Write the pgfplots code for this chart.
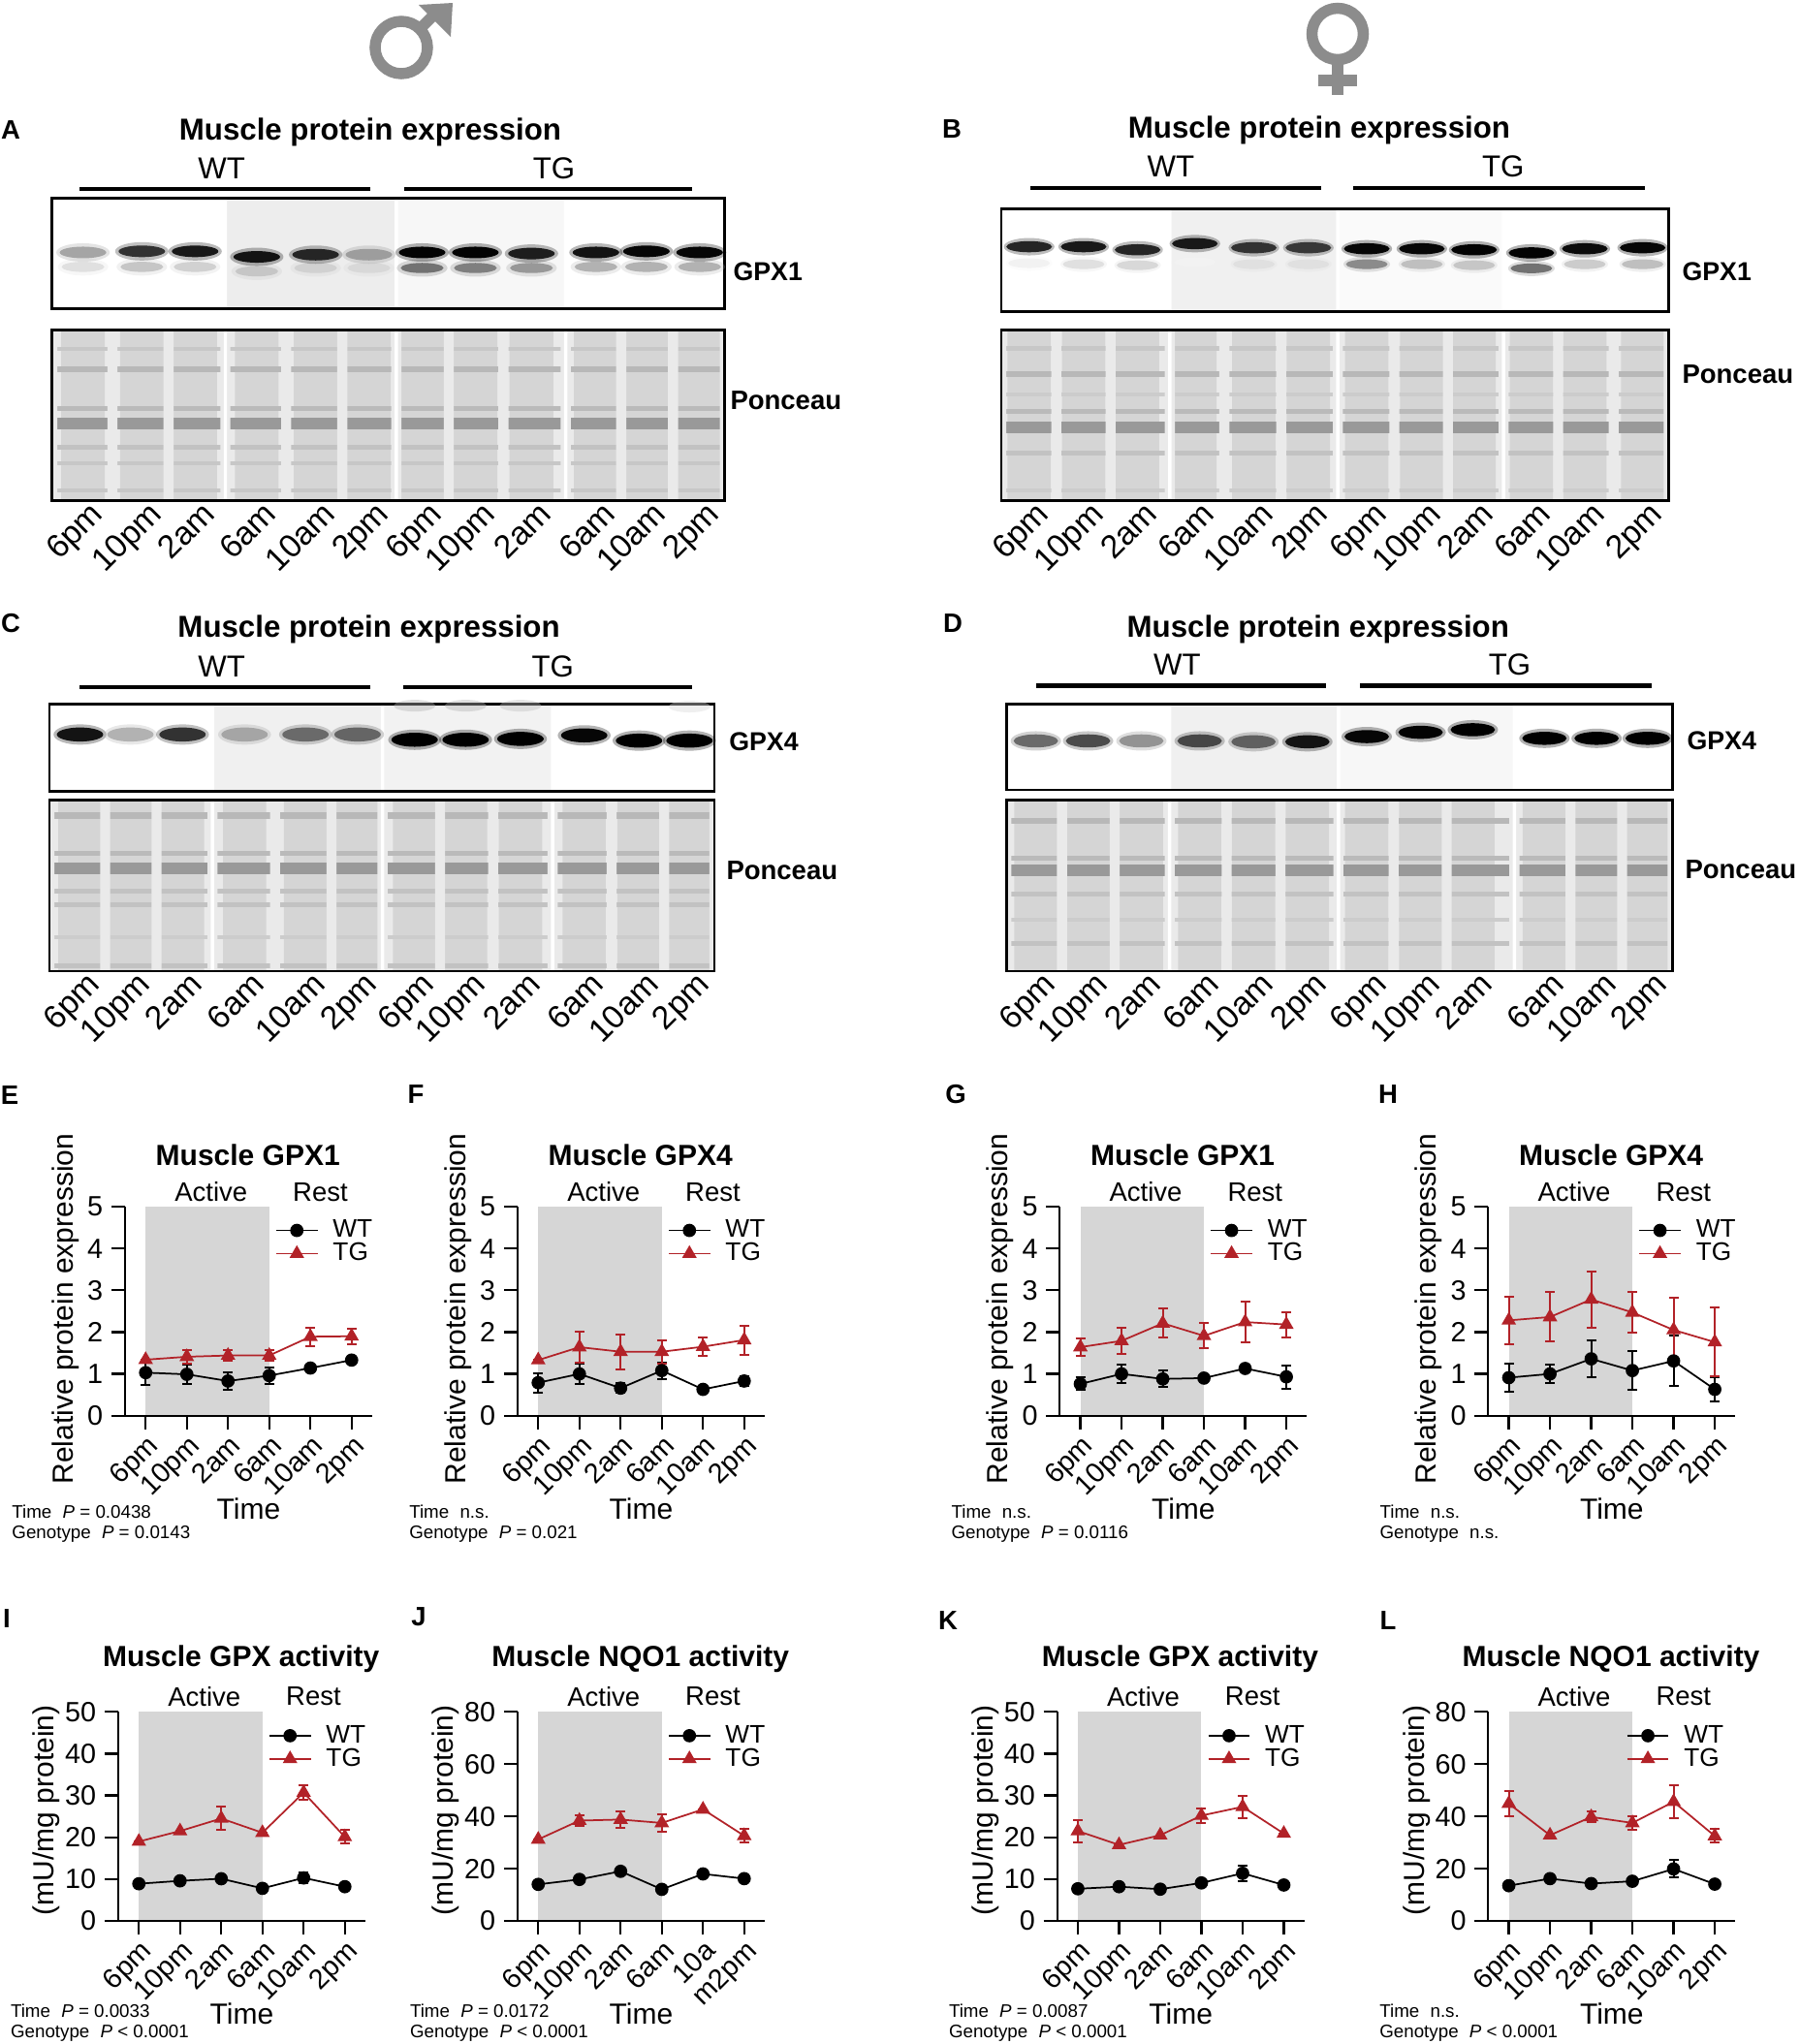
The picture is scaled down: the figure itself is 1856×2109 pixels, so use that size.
\documentclass[border=0pt]{standalone}
\usepackage{fontspec}
\setmainfont{Liberation Sans}
\usepackage{pgfplots}
\usepackage{pgfplotstable}
\pgfplotsset{compat=1.18}
\newcommand{\fs}[1]{\fontsize{#1}{#1}\selectfont}
\definecolor{tgred}{RGB}{178,34,40}
\definecolor{shade}{RGB}{214,214,214}
\definecolor{symgray}{RGB}{140,140,140}
\definecolor{ponbg}{RGB}{234,234,234}
\definecolor{ponlane}{RGB}{213,213,213}

\pgfplotsset{
  lc/.style={
    scale only axis, width=102pt, height=86.3pt, anchor=south west,
    axis lines=left, axis line style={-, line width=0.9pt},
    xmin=-0.5, xmax=5.5, ymin=0,
    xtick={0,1,2,3,4,5}, xticklabels={6pm,10pm,2am,6am,10am,2pm},
    tick align=outside, major tick length=5.6pt,
    tick style={line width=0.9pt, black},
    ticklabel style={font=\fs{11.5}},
    xticklabel style={rotate=45, anchor=north east, inner sep=1pt},
    /pgf/number format/assume math mode=true,
    clip=false, axis on top,
    legend cell align=left,
    legend style={draw=none, fill=none, anchor=north west, font=\fs{10.5},
      inner sep=0pt, row sep=-3.2pt, column sep=4pt, at={(0.606,0.962)}},
    every axis y label/.style={at={(axis description cs:-0.24,0.51)}, rotate=90, anchor=center, font=\fs{12}},
    every axis x label/.style={at={(axis description cs:0.5,-0.443)}, anchor=center, font=\fs{12}},
    xlabel={Time},
  },
  lctop/.style={lc, ymax=5, ytick={0,1,2,3,4,5}, ylabel={Relative protein expression}},
  lcbot/.style={lc, ylabel={(mU/mg protein)},
    every axis y label/.append style={at={(axis description cs:-0.29,0.53)}}},
  wt/.style={black, line width=0.7pt, mark=*, mark size=2.4pt,
    error bars/.cd, y dir=both, y explicit,
    error bar style={line width=0.8pt, black},
    error mark options={rotate=90, mark size=2pt, line width=0.8pt, black}},
  tg/.style={tgred, line width=0.7pt, mark=triangle*, mark size=2.8pt,
    error bars/.cd, y dir=both, y explicit,
    error bar style={line width=0.8pt, tgred},
    error mark options={rotate=90, mark size=2pt, line width=0.8pt, tgred}},
  blot/.style={scale only axis, anchor=south west, xmin=0, xmax=12, ymin=0, ymax=1,
    axis line style={line width=1.1pt}, xtick=\empty, ytick=\empty, axis on top,
    colormap={blot}{gray(0cm)=(1); gray(1cm)=(0)},
    point meta min=0, point meta max=1},
  band/.style={scatter, only marks, mark=*, point meta=explicit,
    scatter/use mapped color={draw opacity=0, fill=mapped color}},
  pon/.style={blot, axis background/.style={fill=ponbg},
    major tick length=0pt, xticklabels={6pm,10pm,2am,6am,10am,2pm,6pm,10pm,2am,6am,10am,2pm},
    xticklabel style={rotate=45, anchor=north east, font=\fs{13.5}, inner sep=1pt, xshift=3pt}},
  lane/.style={ybar, bar width=0.78, bar shift=0pt, fill=ponlane, draw=none},
  gap/.style={ybar, bar width=0.18, bar shift=0pt, fill=ponbg, draw=none},
  seg/.style={ybar, bar width=0.06, bar shift=0pt, fill=white, draw=none},
}

% ---------- blot band tables ----------
\pgfplotstableread{
x y c
0.55 0.51 0.35
1.60 0.52 0.80
2.55 0.52 0.90
3.65 0.47 0.92
4.70 0.49 0.85
5.65 0.49 0.38
6.60 0.51 0.98
7.55 0.51 0.98
8.55 0.50 0.88
9.70 0.51 0.92
10.60 0.52 0.97
11.55 0.51 0.97
}\bandAmain
\pgfplotstableread{
x y c
0.55 0.38 0.12
1.60 0.38 0.22
2.55 0.38 0.18
3.65 0.34 0.22
4.70 0.37 0.18
5.65 0.37 0.15
6.60 0.37 0.55
7.55 0.37 0.50
8.55 0.37 0.40
9.70 0.38 0.30
10.60 0.38 0.30
11.55 0.38 0.30
}\bandAlow
\pgfplotstableread{
x y c
0.50 0.63 0.85
1.48 0.63 0.90
2.45 0.60 0.85
3.48 0.66 0.90
4.54 0.62 0.80
5.52 0.62 0.78
6.57 0.61 0.97
7.56 0.61 0.97
8.50 0.60 0.98
9.53 0.57 0.98
10.49 0.61 0.95
11.53 0.62 0.97
}\bandBmain
\pgfplotstableread{
x y c
0.50 0.47 0.05
1.48 0.46 0.12
2.45 0.45 0.15
3.48 0.48 0.05
4.54 0.46 0.12
5.52 0.46 0.12
6.57 0.46 0.45
7.56 0.46 0.25
8.50 0.45 0.22
9.53 0.42 0.55
10.49 0.46 0.20
11.53 0.46 0.25
}\bandBlow
\pgfplotstableread{
x y c
0.55 0.65 0.92
1.46 0.65 0.30
2.40 0.65 0.80
3.52 0.65 0.35
4.62 0.65 0.58
5.56 0.65 0.60
6.59 0.59 1.00
7.51 0.59 1.00
8.50 0.60 1.00
9.65 0.64 0.97
10.64 0.58 1.00
11.55 0.58 1.00
}\bandCmain
\pgfplotstableread{
x y c
6.59 0.98 0.30
7.51 0.98 0.30
8.50 0.98 0.25
11.55 0.97 0.15
}\bandCtop
\pgfplotstableread{
x y c
0.53 0.57 0.58
1.47 0.57 0.70
2.43 0.57 0.42
3.48 0.57 0.72
4.45 0.56 0.62
5.42 0.56 0.92
6.49 0.62 0.97
7.46 0.67 0.98
8.40 0.70 1.00
9.69 0.60 1.00
10.63 0.60 1.00
11.55 0.60 1.00
}\bandDmain

\begin{document}
\begin{tikzpicture}[x=0.4pt,y=-0.4pt]
\path[use as bounding box] (0,0) rectangle (1856,2109);

% ---------- sex symbols ----------
\draw[symgray, line width=4.6pt] (414,49) circle [radius=10.8pt];
\draw[symgray, line width=4.6pt] (433,30) -- (452,11);
\fill[symgray] (467,3) -- (432,5) -- (465,38) -- cycle;
\draw[symgray, line width=4.6pt] (1380,35) circle [radius=10.6pt];
\draw[symgray, line width=4.8pt] (1380,62) -- (1380,98);
\draw[symgray, line width=4.6pt] (1360,83) -- (1400,83);

% ---------- panel letters ----------
\foreach \l/\px/\py in {A/11/134,B/982/133,C/11/643,D/983/643,E/10/1130,F/429/1129,G/986/1129,H/1432/1129,I/7/1670,J/432/1668,K/978/1672,L/1432/1672}
  \node[font=\bfseries\fs{11}] at (\px,\py) {\l};

% ---------- blot headers ----------
\node[font=\bfseries\fs{12.5}] at (382,136) {Muscle protein expression};
\node[font=\fs{12.5}] at (228.7,173.5) {WT};
\node[font=\fs{12.5}] at (571.6,173.5) {TG};
\draw[line width=1.7pt] (82,195) -- (382,195) (417,195) -- (714,195);
\node[font=\bfseries\fs{10.7}, anchor=west, inner sep=0pt] at (756,280) {GPX1};
\node[font=\bfseries\fs{11}, anchor=west, inner sep=0pt] at (753,413) {Ponceau};

\node[font=\bfseries\fs{12.5}] at (1361,134.5) {Muscle protein expression};
\node[font=\fs{12.5}] at (1207.8,172) {WT};
\node[font=\fs{12.5}] at (1550.8,172) {TG};
\draw[line width=1.7pt] (1062.6,193.7) -- (1362.5,193.7) (1396,193.7) -- (1697.4,193.7);
\node[font=\bfseries\fs{10.7}, anchor=west, inner sep=0pt] at (1735,280) {GPX1};
\node[font=\bfseries\fs{11}, anchor=west, inner sep=0pt] at (1735,386) {Ponceau};

\node[font=\bfseries\fs{12.5}] at (380.6,649.6) {Muscle protein expression};
\node[font=\fs{12.5}] at (228.7,687.3) {WT};
\node[font=\fs{12.5}] at (570.3,687.3) {TG};
\draw[line width=1.7pt] (82,708.8) -- (382,708.8) (415.6,708.8) -- (714,708.8);
\node[font=\bfseries\fs{10.7}, anchor=west, inner sep=0pt] at (751.8,765.3) {GPX4};
\node[font=\bfseries\fs{11}, anchor=west, inner sep=0pt] at (749,898.5) {Ponceau};

\node[font=\bfseries\fs{12.5}] at (1359.8,649.6) {Muscle protein expression};
\node[font=\fs{12.5}] at (1214.5,686) {WT};
\node[font=\fs{12.5}] at (1557.5,686) {TG};
\draw[line width=1.7pt] (1069,707.5) -- (1368,707.5) (1403,707.5) -- (1704,707.5);
\node[font=\bfseries\fs{10.7}, anchor=west, inner sep=0pt] at (1740,764) {GPX4};
\node[font=\bfseries\fs{11}, anchor=west, inner sep=0pt] at (1738,897) {Ponceau};

% ---------- A blots ----------
\begin{axis}[blot, at={(21.52pt,-127.52pt)}, width=277.6pt, height=45.76pt]
\addplot[fill=black!7, draw=none] coordinates {(3.09,1) (6.14,1)} \closedcycle;
\addplot[fill=black!3, draw=none] coordinates {(6.14,1) (9.16,1)} \closedcycle;
\addplot[seg] coordinates {(3.09,1) (6.14,1) (9.16,1)};
\addplot[band, mark size=3.6pt, mark options={xscale=2.9, fill opacity=0.25}] table[x=x,y=y,meta=c]{\bandAlow};
\addplot[band, mark size=2.1pt, mark options={xscale=4.2}] table[x=x,y=y,meta=c]{\bandAlow};
\addplot[band, mark size=3.8pt, mark options={xscale=2.9, fill opacity=0.3}] table[x=x,y=y,meta=c]{\bandAmain};
\addplot[band, mark size=2.4pt, mark options={xscale=4.0}] table[x=x,y=y,meta=c]{\bandAmain};
\end{axis}
\begin{axis}[pon, at={(21.52pt,-206.6pt)}, width=277.6pt, height=70.48pt,
  xtick={0.55,1.6,2.55,3.65,4.7,5.65,6.6,7.55,8.55,9.7,10.6,11.55}]
\addplot[lane] coordinates {(0.55,1) (1.6,1) (2.55,1) (3.65,1) (4.7,1) (5.65,1) (6.6,1) (7.55,1) (8.55,1) (9.7,1) (10.6,1) (11.55,1)};
\addplot[black!40, line width=4.8pt] coordinates {(0,0.45) (12,0.45)};
\addplot[black!27, line width=2pt] coordinates {(0,0.54) (12,0.54)};
\addplot[black!28, line width=2.6pt] coordinates {(0,0.77) (12,0.77)};
\addplot[black!24, line width=2pt] coordinates {(0,0.31) (12,0.31)};
\addplot[black!22, line width=1.5pt] coordinates {(0,0.22) (12,0.22)};
\addplot[black!22, line width=1.5pt] coordinates {(0,0.89) (12,0.89)};
\addplot[black!22, line width=1.5pt] coordinates {(0,0.06) (12,0.06)};
\addplot[gap] coordinates {(0,1) (1.075,1) (2.075,1) (3.09,1) (4.175,1) (5.175,1) (6.14,1) (7.075,1) (8.05,1) (9.16,1) (10.15,1) (11.075,1) (12,1)};
\addplot[seg] coordinates {(3.09,1) (6.14,1) (9.16,1)};
\end{axis}

% ---------- B blots ----------
\begin{axis}[blot, at={(413.2pt,-128.6pt)}, width=275.44pt, height=42.52pt]
\addplot[fill=black!6, draw=none] coordinates {(3.03,1) (6.05,1)} \closedcycle;
\addplot[fill=black!2, draw=none] coordinates {(6.05,1) (9.03,1)} \closedcycle;
\addplot[seg] coordinates {(3.03,1) (6.05,1) (9.03,1)};
\addplot[band, mark size=3.2pt, mark options={xscale=3.0, fill opacity=0.25}] table[x=x,y=y,meta=c]{\bandBlow};
\addplot[band, mark size=2.0pt, mark options={xscale=4.3}] table[x=x,y=y,meta=c]{\bandBlow};
\addplot[band, mark size=3.6pt, mark options={xscale=2.9, fill opacity=0.3}] table[x=x,y=y,meta=c]{\bandBmain};
\addplot[band, mark size=2.3pt, mark options={xscale=4.1}] table[x=x,y=y,meta=c]{\bandBmain};
\end{axis}
\begin{axis}[pon, at={(413.2pt,-206.6pt)}, width=275.44pt, height=70.48pt,
  xtick={0.5,1.48,2.45,3.48,4.54,5.52,6.57,7.56,8.5,9.53,10.49,11.53}]
\addplot[lane] coordinates {(0.5,1) (1.48,1) (2.45,1) (3.48,1) (4.54,1) (5.52,1) (6.57,1) (7.56,1) (8.5,1) (9.53,1) (10.49,1) (11.53,1)};
\addplot[black!40, line width=4.8pt] coordinates {(0,0.43) (12,0.43)};
\addplot[black!27, line width=2pt] coordinates {(0,0.52) (12,0.52)};
\addplot[black!28, line width=2.6pt] coordinates {(0,0.74) (12,0.74)};
\addplot[black!24, line width=2pt] coordinates {(0,0.28) (12,0.28)};
\addplot[black!22, line width=1.8pt] coordinates {(0,0.89) (12,0.89)};
\addplot[black!20, line width=1.5pt] coordinates {(0,0.62) (12,0.62)};
\addplot[black!20, line width=1.5pt] coordinates {(0,0.06) (12,0.06)};
\addplot[gap] coordinates {(0,1) (0.99,1) (1.965,1) (3.03,1) (4.01,1) (5.03,1) (6.05,1) (7.065,1) (8.03,1) (9.03,1) (10.01,1) (11.01,1) (12,1)};
\addplot[seg] coordinates {(3.03,1) (6.05,1) (9.03,1)};
\end{axis}

% ---------- C blots ----------
\begin{axis}[blot, at={(20.44pt,-326.56pt)}, width=274.36pt, height=36.04pt]
\addplot[fill=black!6, draw=none] coordinates {(2.94,1) (6.01,1)} \closedcycle;
\addplot[fill=black!5, draw=none] coordinates {(6.01,1) (9.08,1)} \closedcycle;
\addplot[seg] coordinates {(2.94,1) (6.01,1) (9.08,1)};
\addplot[band, mark size=2.4pt, mark options={xscale=3.6, fill opacity=0.4}] table[x=x,y=y,meta=c]{\bandCtop};
\addplot[band, mark size=4.2pt, mark options={xscale=2.6, fill opacity=0.3}] table[x=x,y=y,meta=c]{\bandCmain};
\addplot[band, mark size=2.9pt, mark options={xscale=3.3}] table[x=x,y=y,meta=c]{\bandCmain};
\end{axis}
\begin{axis}[pon, at={(20.44pt,-400.8pt)}, width=274.36pt, height=70.48pt,
  xtick={0.55,1.46,2.4,3.52,4.62,5.56,6.59,7.51,8.5,9.65,10.64,11.55}]
\addplot[lane] coordinates {(0.55,1) (1.46,1) (2.4,1) (3.52,1) (4.62,1) (5.56,1) (6.59,1) (7.51,1) (8.5,1) (9.65,1) (10.64,1) (11.55,1)};
\addplot[black!40, line width=4.8pt] coordinates {(0,0.60) (12,0.60)};
\addplot[black!27, line width=2pt] coordinates {(0,0.69) (12,0.69)};
\addplot[black!28, line width=2.6pt] coordinates {(0,0.91) (12,0.91)};
\addplot[black!24, line width=2pt] coordinates {(0,0.47) (12,0.47)};
\addplot[black!24, line width=2pt] coordinates {(0,0.39) (12,0.39)};
\addplot[black!20, line width=1.5pt] coordinates {(0,0.20) (12,0.20)};
\addplot[black!24, line width=2pt] coordinates {(0,0.03) (12,0.03)};
\addplot[gap] coordinates {(0,1) (1.005,1) (1.93,1) (2.94,1) (4.07,1) (5.09,1) (6.01,1) (7.05,1) (8.005,1) (9.08,1) (10.145,1) (11.095,1) (12,1)};
\addplot[seg] coordinates {(2.94,1) (6.01,1) (9.08,1)};
\end{axis}

% ---------- D blots ----------
\begin{axis}[blot, at={(415.32pt,-326pt)}, width=274.92pt, height=35.48pt]
\addplot[fill=black!6, draw=none] coordinates {(2.94,1) (5.98,1)} \closedcycle;
\addplot[fill=black!3, draw=none] coordinates {(5.98,1) (9.15,1)} \closedcycle;
\addplot[seg] coordinates {(2.94,1) (5.98,1) (9.15,1)};
\addplot[band, mark size=4.0pt, mark options={xscale=2.6, fill opacity=0.3}] table[x=x,y=y,meta=c]{\bandDmain};
\addplot[band, mark size=2.7pt, mark options={xscale=3.4}] table[x=x,y=y,meta=c]{\bandDmain};
\end{axis}
\begin{axis}[pon, at={(415.32pt,-400.8pt)}, width=274.92pt, height=70.48pt,
  xtick={0.53,1.47,2.43,3.48,4.45,5.42,6.49,7.46,8.4,9.69,10.63,11.55}]
\addplot[lane] coordinates {(0.53,1) (1.47,1) (2.43,1) (3.48,1) (4.45,1) (5.42,1) (6.49,1) (7.46,1) (8.4,1) (9.69,1) (10.63,1) (11.55,1)};
\addplot[black!40, line width=4.8pt] coordinates {(0,0.59) (12,0.59)};
\addplot[black!27, line width=2pt] coordinates {(0,0.66) (12,0.66)};
\addplot[black!28, line width=2.6pt] coordinates {(0,0.88) (12,0.88)};
\addplot[black!24, line width=2pt] coordinates {(0,0.45) (12,0.45)};
\addplot[black!24, line width=2pt] coordinates {(0,0.16) (12,0.16)};
\addplot[black!20, line width=1.5pt] coordinates {(0,0.30) (12,0.30)};
\addplot[gap] coordinates {(0,1) (1.0,1) (1.95,1) (2.94,1) (3.965,1) (4.935,1) (5.98,1) (6.975,1) (7.93,1) (9.15,1) (10.16,1) (11.09,1) (12,1)};
\addplot[seg] coordinates {(2.94,1) (5.98,1) (9.15,1)};
\end{axis}

% ================= line charts: row 1 =================
% E
\begin{axis}[lctop, at={(51.6pt,-584.28pt)}]
\addplot[fill=shade, draw=none, forget plot] coordinates {(0,5) (3,5)} \closedcycle;
\addplot[wt] table[x=x,y=y,y error=e]{
x y e
0 1.03 0.29
1 0.99 0.23
2 0.83 0.21
3 0.96 0.20
4 1.14 0.0
5 1.33 0.0
};
\addlegendentry{WT}
\addplot[tg] table[x=x,y=y,y error=e]{
x y e
0 1.34 0.0
1 1.41 0.17
2 1.44 0.13
3 1.44 0.13
4 1.89 0.22
5 1.90 0.18
};
\addlegendentry{TG}
\node[font=\bfseries\fs{12}] at (rel axis cs:0.497,1.246) {Muscle GPX1};
\node[font=\fs{11}] at (rel axis cs:0.348,1.07) {Active};
\node[font=\fs{11}] at (rel axis cs:0.79,1.07) {Rest};
\node[anchor=west, inner sep=0pt, font=\fs{7.5}] at (rel axis cs:-0.459,-0.46) {Time\hspace{0.6em}\textit{P} = 0.0438};
\node[anchor=west, inner sep=0pt, font=\fs{7.5}] at (rel axis cs:-0.459,-0.567) {Genotype\hspace{0.6em}\textit{P} = 0.0143};
\end{axis}

% F
\begin{axis}[lctop, at={(213.6pt,-584.28pt)}]
\addplot[fill=shade, draw=none, forget plot] coordinates {(0,5) (3,5)} \closedcycle;
\addplot[wt] table[x=x,y=y,y error=e]{
x y e
0 0.79 0.23
1 1.00 0.25
2 0.66 0.12
3 1.08 0.20
4 0.63 0.0
5 0.83 0.12
};
\addlegendentry{WT}
\addplot[tg] table[x=x,y=y,y error=e]{
x y e
0 1.33 0.0
1 1.64 0.37
2 1.53 0.42
3 1.53 0.28
4 1.65 0.23
5 1.81 0.35
};
\addlegendentry{TG}
\node[font=\bfseries\fs{12}] at (rel axis cs:0.497,1.246) {Muscle GPX4};
\node[font=\fs{11}] at (rel axis cs:0.348,1.07) {Active};
\node[font=\fs{11}] at (rel axis cs:0.79,1.07) {Rest};
\node[anchor=west, inner sep=0pt, font=\fs{7.5}] at (rel axis cs:-0.44,-0.46) {Time\hspace{0.6em}n.s.};
\node[anchor=west, inner sep=0pt, font=\fs{7.5}] at (rel axis cs:-0.44,-0.567) {Genotype\hspace{0.6em}\textit{P} = 0.021};
\end{axis}

% G
\begin{axis}[lctop, at={(437.32pt,-584.28pt)}]
\addplot[fill=shade, draw=none, forget plot] coordinates {(0,5) (3,5)} \closedcycle;
\addplot[wt] table[x=x,y=y,y error=e]{
x y e
0 0.76 0.15
1 1.00 0.22
2 0.88 0.20
3 0.90 0.0
4 1.13 0.10
5 0.93 0.28
};
\addlegendentry{WT}
\addplot[tg] table[x=x,y=y,y error=e]{
x y e
0 1.64 0.20
1 1.79 0.32
2 2.21 0.35
3 1.91 0.30
4 2.24 0.48
5 2.18 0.30
};
\addlegendentry{TG}
\node[font=\bfseries\fs{12}] at (rel axis cs:0.497,1.246) {Muscle GPX1};
\node[font=\fs{11}] at (rel axis cs:0.348,1.07) {Active};
\node[font=\fs{11}] at (rel axis cs:0.79,1.07) {Rest};
\node[anchor=west, inner sep=0pt, font=\fs{7.5}] at (rel axis cs:-0.44,-0.46) {Time\hspace{0.6em}n.s.};
\node[anchor=west, inner sep=0pt, font=\fs{7.5}] at (rel axis cs:-0.44,-0.567) {Genotype\hspace{0.6em}\textit{P} = 0.0116};
\end{axis}

% H
\begin{axis}[lctop, at={(614.12pt,-584.28pt)}]
\addplot[fill=shade, draw=none, forget plot] coordinates {(0,5) (3,5)} \closedcycle;
\addplot[wt] table[x=x,y=y,y error=e]{
x y e
0 0.91 0.33
1 1.00 0.22
2 1.36 0.45
3 1.08 0.47
4 1.31 0.60
5 0.63 0.28
};
\addlegendentry{WT}
\addplot[tg] table[x=x,y=y,y error=e]{
x y e
0 2.28 0.56
1 2.36 0.59
2 2.78 0.67
3 2.47 0.48
4 2.05 0.78
5 1.76 0.82
};
\addlegendentry{TG}
\node[font=\bfseries\fs{12}] at (rel axis cs:0.497,1.246) {Muscle GPX4};
\node[font=\fs{11}] at (rel axis cs:0.348,1.07) {Active};
\node[font=\fs{11}] at (rel axis cs:0.79,1.07) {Rest};
\node[anchor=west, inner sep=0pt, font=\fs{7.5}] at (rel axis cs:-0.44,-0.46) {Time\hspace{0.6em}n.s.};
\node[anchor=west, inner sep=0pt, font=\fs{7.5}] at (rel axis cs:-0.44,-0.567) {Genotype\hspace{0.6em}n.s.};
\end{axis}

% ================= line charts: row 2 =================
% I
\begin{axis}[lcbot, ymax=50, ytick={0,10,20,30,40,50}, at={(48.8pt,-792.8pt)}]
\addplot[fill=shade, draw=none, forget plot] coordinates {(0,50) (3,50)} \closedcycle;
\addplot[wt] table[x=x,y=y,y error=e]{
x y e
0 8.9 0.0
1 9.6 0.0
2 10.1 0.0
3 7.8 0.0
4 10.3 1.3
5 8.2 0.0
};
\addlegendentry{WT}
\addplot[tg] table[x=x,y=y,y error=e]{
x y e
0 19.0 0.0
1 21.5 0.0
2 24.5 2.8
3 21.1 0.0
4 30.7 1.8
5 20.1 1.6
};
\addlegendentry{TG}
\node[font=\bfseries\fs{12}] at (rel axis cs:0.497,1.251) {Muscle GPX activity};
\node[font=\fs{11}] at (rel axis cs:0.348,1.074) {Active};
\node[font=\fs{11}] at (rel axis cs:0.79,1.074) {Rest};
\node[anchor=west, inner sep=0pt, font=\fs{7.5}] at (rel axis cs:-0.437,-0.431) {Time\hspace{0.6em}\textit{P} = 0.0033};
\node[anchor=west, inner sep=0pt, font=\fs{7.5}] at (rel axis cs:-0.437,-0.537) {Genotype\hspace{0.6em}\textit{P} < 0.0001};
\end{axis}

% J
\begin{axis}[lcbot, ymax=80, ytick={0,20,40,60,80}, at={(213.6pt,-792.8pt)},
  xticklabels={6pm,10pm,2am,6am,10a,m2pm}]
\addplot[fill=shade, draw=none, forget plot] coordinates {(0,80) (3,80)} \closedcycle;
\addplot[wt] table[x=x,y=y,y error=e]{
x y e
0 14.0 0.0
1 15.9 0.0
2 19.0 1.5
3 12.1 0.0
4 18.0 0.0
5 16.2 0.0
};
\addlegendentry{WT}
\addplot[tg] table[x=x,y=y,y error=e]{
x y e
0 31.2 0.0
1 38.4 2.2
2 38.8 3.0
3 37.5 3.4
4 42.7 0.0
5 32.6 2.7
};
\addlegendentry{TG}
\node[font=\bfseries\fs{12}] at (rel axis cs:0.497,1.251) {Muscle NQO1 activity};
\node[font=\fs{11}] at (rel axis cs:0.348,1.074) {Active};
\node[font=\fs{11}] at (rel axis cs:0.79,1.074) {Rest};
\node[anchor=west, inner sep=0pt, font=\fs{7.5}] at (rel axis cs:-0.437,-0.431) {Time\hspace{0.6em}\textit{P} = 0.0172};
\node[anchor=west, inner sep=0pt, font=\fs{7.5}] at (rel axis cs:-0.437,-0.537) {Genotype\hspace{0.6em}\textit{P} < 0.0001};
\end{axis}

% K
\begin{axis}[lcbot, ymax=50, ytick={0,10,20,30,40,50}, at={(436.28pt,-792.8pt)}]
\addplot[fill=shade, draw=none, forget plot] coordinates {(0,50) (3,50)} \closedcycle;
\addplot[wt] table[x=x,y=y,y error=e]{
x y e
0 7.7 0.0
1 8.2 0.0
2 7.6 0.0
3 9.1 0.0
4 11.4 1.8
5 8.6 0.0
};
\addlegendentry{WT}
\addplot[tg] table[x=x,y=y,y error=e]{
x y e
0 21.5 2.7
1 18.2 0.0
2 20.5 0.0
3 25.2 1.8
4 27.3 2.7
5 20.9 0.0
};
\addlegendentry{TG}
\node[font=\bfseries\fs{12}] at (rel axis cs:0.497,1.251) {Muscle GPX activity};
\node[font=\fs{11}] at (rel axis cs:0.348,1.074) {Active};
\node[font=\fs{11}] at (rel axis cs:0.79,1.074) {Rest};
\node[anchor=west, inner sep=0pt, font=\fs{7.5}] at (rel axis cs:-0.44,-0.431) {Time\hspace{0.6em}\textit{P} = 0.0087};
\node[anchor=west, inner sep=0pt, font=\fs{7.5}] at (rel axis cs:-0.44,-0.537) {Genotype\hspace{0.6em}\textit{P} < 0.0001};
\end{axis}

% L
\begin{axis}[lcbot, ymax=80, ytick={0,20,40,60,80}, at={(614.12pt,-792.8pt)},
  legend style={at={(0.557,0.962)}}]
\addplot[fill=shade, draw=none, forget plot] coordinates {(0,80) (3,80)} \closedcycle;
\addplot[wt] table[x=x,y=y,y error=e]{
x y e
0 13.5 0.0
1 16.2 0.0
2 14.3 0.0
3 15.2 0.0
4 19.9 3.3
5 14.1 0.0
};
\addlegendentry{WT}
\addplot[tg] table[x=x,y=y,y error=e]{
x y e
0 44.9 4.7
1 32.8 0.0
2 39.8 2.0
3 37.5 2.5
4 45.6 6.4
5 32.5 2.6
};
\addlegendentry{TG}
\node[font=\bfseries\fs{12}] at (rel axis cs:0.497,1.251) {Muscle NQO1 activity};
\node[font=\fs{11}] at (rel axis cs:0.348,1.074) {Active};
\node[font=\fs{11}] at (rel axis cs:0.79,1.074) {Rest};
\node[anchor=west, inner sep=0pt, font=\fs{7.5}] at (rel axis cs:-0.441,-0.431) {Time\hspace{0.6em}n.s.};
\node[anchor=west, inner sep=0pt, font=\fs{7.5}] at (rel axis cs:-0.441,-0.537) {Genotype\hspace{0.6em}\textit{P} < 0.0001};
\end{axis}

\end{tikzpicture}
\end{document}
